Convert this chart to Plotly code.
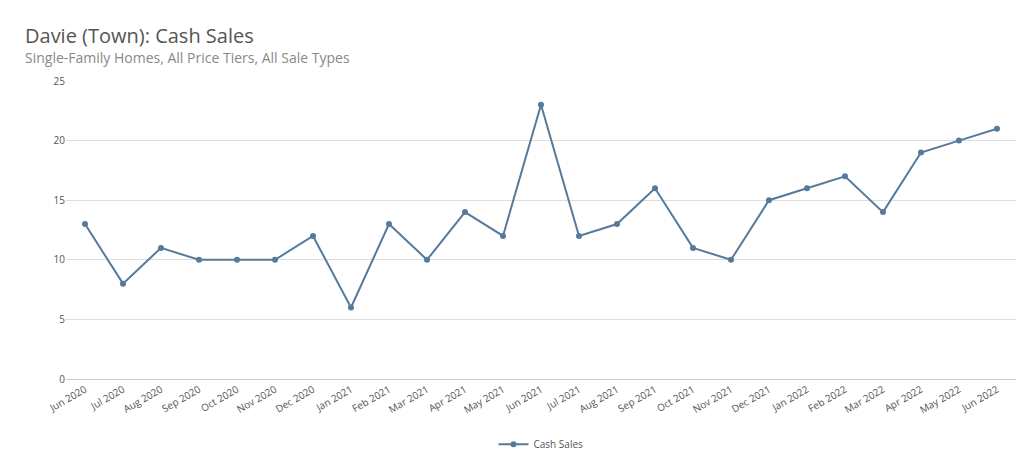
import plotly.graph_objects as go

months = ["Jun 2020","Jul 2020","Aug 2020","Sep 2020","Oct 2020","Nov 2020","Dec 2020",
          "Jan 2021","Feb 2021","Mar 2021","Apr 2021","May 2021","Jun 2021","Jul 2021",
          "Aug 2021","Sep 2021","Oct 2021","Nov 2021","Dec 2021","Jan 2022","Feb 2022",
          "Mar 2022","Apr 2022","May 2022","Jun 2022"]
cash_sales = [13,8,11,10,10,10,12,6,13,10,14,12,23,12,13,16,11,10,15,16,17,14,19,20,21]

fig = go.Figure(go.Scatter(x=months, y=cash_sales, mode="lines+markers", name="Cash Sales",
                           line=dict(color="#557a9b", width=2), marker=dict(size=6, color="#557a9b")))
fig.update_layout(
    width=1024, height=469, paper_bgcolor="white", plot_bgcolor="white",
    font=dict(family="Open Sans", color="#555"),
    margin=dict(l=58, r=16, t=73, b=98),
    showlegend=True,
    legend=dict(orientation="h", x=0.5, xanchor="center", y=-0.17, yanchor="top", font=dict(size=10)),
    xaxis=dict(type="category", range=[-0.5, 24.5], tickangle=-30, tickfont=dict(size=10, color="#555"),
               showgrid=False, showline=True, linecolor="#ccc", ticks="", automargin=False),
    yaxis=dict(range=[0, 25], dtick=5, gridcolor="#ddd", tickfont=dict(size=10, color="#555"),
               zeroline=False, ticks="", automargin=False),
    annotations=[
        dict(text="Davie (Town): Cash Sales", xref="paper", yref="paper", x=15/1024, y=1, xanchor="left",
             yanchor="bottom", yshift=30, showarrow=False, font=dict(size=20, color="#555"),
             xshift=-58+0, ),
        dict(text="Single-Family Homes, All Price Tiers, All Sale Types", xref="paper", yref="paper",
             x=15/1024, y=1, xanchor="left", yanchor="bottom", yshift=12, xshift=-58,
             showarrow=False, font=dict(size=14, color="#888")),
    ],
)
fig.layout.annotations[0].x = 0
fig.layout.annotations[1].x = 0
fig.layout.annotations[0].xshift = 15 - 58
fig.layout.annotations[1].xshift = 15 - 58
fig.write_html("out.html")
